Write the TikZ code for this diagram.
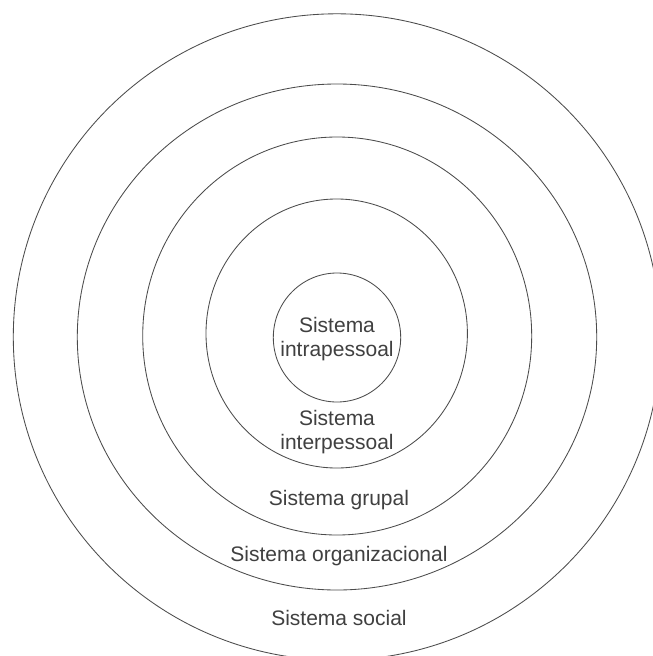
\documentclass[tikz,border=0pt]{standalone}
\usepackage{fontspec}
\setmainfont{Liberation Sans}
\begin{document}
\begin{tikzpicture}[x=1pt,y=-1pt,
  ring/.style={draw=black!70,line width=0.85pt},
  lbl/.style={text=black!75,font=\fontsize{21}{23.5}\selectfont,align=center,inner sep=0pt,anchor=base}]
\useasboundingbox[fill=white] (0,0) rectangle (653,656);
\draw[ring] (337,337) ellipse [x radius=323.7,y radius=323.2];
\draw[ring] (337,337) ellipse [x radius=259.7,y radius=253];
\draw[ring] (337.2,336) ellipse [x radius=194.5,y radius=199];
\draw[ring] (336.7,333.5) ellipse [x radius=130.7,y radius=134.5];
\draw[ring] (337,337.5) ellipse [x radius=63.7,y radius=64.5];
\node[lbl] (intra) at (337,356) {Sistema\\intrapessoal};
\node[lbl] (inter) at (337,449) {Sistema\\interpessoal};
\node[lbl] (grupal) at (339,505) {Sistema grupal};
\node[lbl] (org) at (339,561.7) {Sistema organizacional};
\node[lbl] (social) at (339,625) {Sistema social};
\end{tikzpicture}
\end{document}
